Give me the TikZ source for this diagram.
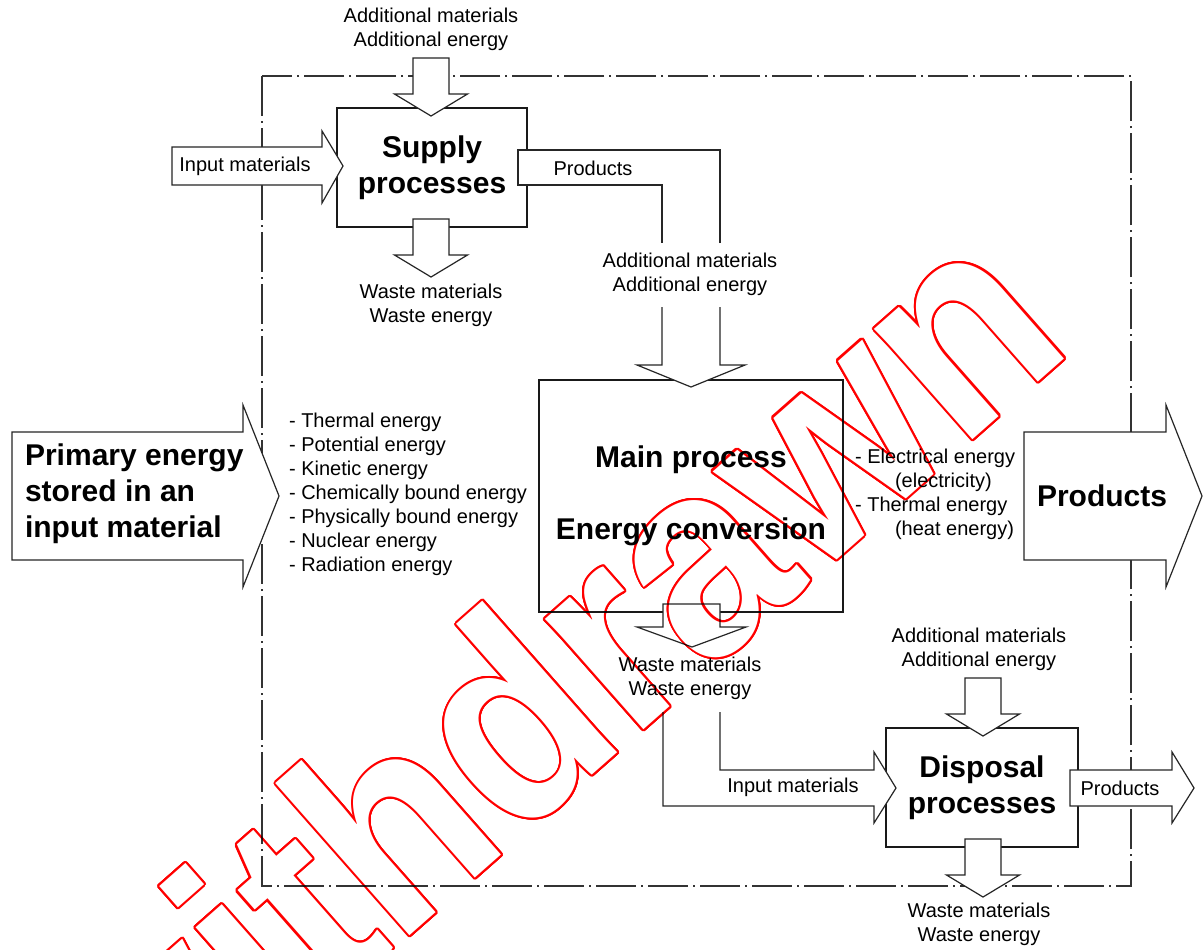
\documentclass[tikz,border=0pt]{standalone}
\usepackage{fontspec}
\setmainfont{Liberation Sans}
\usetikzlibrary{positioning, calc}

\tikzset{
  frameline/.style={line width=0.6pt, black!80, dash pattern=on 20pt off 2.5pt on 1pt off 2.5pt},
  blockarrow/.style={draw=black!85, line width=0.6pt, fill=white, line join=miter},
  process/.style={draw=black!90, line width=1.4pt, fill=white, align=center,
    font=\fontsize{15}{18}\selectfont\bfseries},
  small/.style={align=center, font=\fontsize{10}{12}\selectfont},
  stamp/.style={rotate=41.4, xscale=0.91, anchor=base, inner sep=0pt, font=\fontsize{140}{140}\selectfont\bfseries},
}
% down block arrow: x, top, tip
\newcommand{\downblock}[3]{%
  \draw[blockarrow] ({#1-18},#2) -- ({#1-18},{#3-22}) -- ({#1-36.5},{#3-22}) -- (#1,#3)
    -- ({#1+36.5},{#3-22}) -- ({#1+18},{#3-22}) -- ({#1+18},#2) -- cycle;}

\begin{document}
\begin{tikzpicture}[x=0.5pt, y=-0.5pt]
    \clip (0,0) rectangle (1203,949);
    \fill[white] (0,0) rectangle (1203,949);

    % system boundary
    \draw[frameline] (262,76) rectangle (1131,886);

    % processes
    \node [process, minimum width=95pt, minimum height=59.5pt] (supply) at (432,167.5) {};
    \node [process, minimum width=152pt, minimum height=116pt] (main) at (691,496) {};
    \node [process, minimum width=96pt, minimum height=59.5pt] (disposal) at (982,787.5) {};

    % supply process
    \downblock{431}{58}{116}
    \downblock{431}{219}{277}
    \draw[blockarrow] (172,147) -- (322,147) -- (322,131) -- (343,166) -- (322,203) -- (322,185) -- (172,185) -- cycle;
    \draw[blockarrow] (720,243) -- (720,150) -- (518,150) -- (518,185) -- (662,185) -- (662,243);
    \draw[blockarrow] (662,307) -- (662,365) -- (637,365) -- (691,387) -- (745,365) -- (720,365) -- (720,307);

    % main process
    \draw[blockarrow] (12,432) -- (243,432) -- (243,405) -- (279,496) -- (243,587) -- (243,560) -- (12,560) -- cycle;
    \draw[blockarrow] (1024,432) -- (1166,432) -- (1166,405) -- (1202,496) -- (1166,587) -- (1166,560) -- (1024,560) -- cycle;
    \draw[blockarrow] (663,604) -- (663,627) -- (637,627) -- (692,647) -- (746,627) -- (720,627) -- (720,604) -- cycle;
    \draw[blockarrow] (720,712) -- (720,770) -- (874,770) -- (874,752) -- (896,788) -- (874,823) -- (874,806) -- (663,806) -- (663,712);

    % disposal process
    \downblock{983}{678}{736}
    \downblock{983}{839}{897}
    \draw[blockarrow] (1070,770) -- (1172,770) -- (1172,752) -- (1194,788) -- (1172,823) -- (1172,806) -- (1070,806) -- cycle;

    % texts
    \node [process, draw=none, fill=none] (supplytext) at (supply) {Supply\\processes};
    \node [process, draw=none, fill=none] (maintext) at (main) {Main process\\[18pt]Energy conversion};
    \node [process, draw=none, fill=none] (disposaltext) at (disposal) {Disposal\\processes};
    \node [process, draw=none, fill=none, align=left, anchor=west] (primary) at (17,494) {Primary energy\\stored in an\\input material};
    \node [process, draw=none, fill=none] (products) at (1102,496) {Products};

    \node [small] (supplyadd) at (431,29) {Additional materials\\Additional energy};
    \node [small] (supplywaste) at (431,305) {Waste materials\\Waste energy};
    \node [small] (supplyin) at (245,166) {Input materials};
    \node [small] (supplyout) at (593,168) {Products};
    \node [small] (mainadd) at (690,274) {Additional materials\\Additional energy};
    \node [small] (mainwaste) at (690,678) {Waste materials\\Waste energy};
    \node [small] (disposalin) at (793,787) {Input materials};
    \node [small] (disposalout) at (1120,788) {Products};
    \node [small] (disposaladd) at (979,649) {Additional materials\\Additional energy};
    \node [small] (disposalwaste) at (979,924) {Waste materials\\Waste energy};
    \node [small, align=left, anchor=west] (forms) at (282,494) {- Thermal energy\\- Potential energy\\- Kinetic energy\\- Chemically bound energy\\- Physically bound energy\\- Nuclear energy\\- Radiation energy};
    \node [small, align=left, anchor=west] (outforms) at (848,494) {- Electrical energy\\\hspace*{20pt}(electricity)\\- Thermal energy\\\hspace*{20pt}(heat energy)};

    % withdrawn stamp, outline only
    \coordinate (stampc) at (604,765);
    \begin{scope}[blend mode=multiply]
      \begin{scope}[transparency group]
        \begin{scope}[blend mode=normal]
          \foreach \a in {0,15,...,345}
            \node [stamp, red] at ($(stampc)+(\a:2)$) {withdrawn};
          \node [stamp, white] (stamp) at (stampc) {withdrawn};
        \end{scope}
      \end{scope}
    \end{scope}
\end{tikzpicture}
\end{document}
